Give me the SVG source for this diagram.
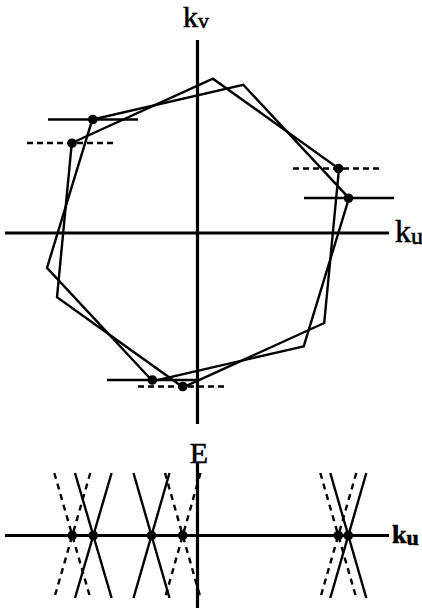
<svg xmlns="http://www.w3.org/2000/svg" width="422" height="610" viewBox="0 0 422 610">
<style>
.ax{stroke:#000;stroke-width:3.2;fill:none}
.ln{stroke:#000;stroke-width:2.4;fill:none}
.ds{stroke:#000;stroke-width:2.4;fill:none;stroke-dasharray:6 4}
.dc{stroke:#000;stroke-width:2.4;fill:none;stroke-dasharray:6 5}
.dot{fill:#000}
.lbl{font-family:"Liberation Serif","Times New Roman",serif;fill:#000;stroke:#000;stroke-width:0.6}
</style>
<rect width="422" height="610" fill="#fff"/>
<g id="top-axes">
<line class="ax" x1="197.5" y1="40" x2="197.5" y2="424"/>
<line class="ax" x1="5" y1="233" x2="389" y2="233"/>
<text class="lbl" x="183" y="27" font-size="30">k<tspan font-size="22" dy="1">v</tspan></text>
<text class="lbl" x="395" y="242" font-size="32">k<tspan font-size="24" dy="2">u</tspan></text>
</g>
<g id="hexagon-solid">
<polygon class="ln" points="303.7,346.4 152.7,381.2 47,267.9 92.3,119.6 243.3,84.8 349,198.1"/>
</g>
<g id="hexagon-dashed-set">
<polygon class="ln" points="324.2,323 183.1,387.3 57,297.3 71.8,143 212.9,78.7 339,168.7"/>
</g>
<g id="levels">
<line class="ln" x1="48" y1="119.5" x2="138" y2="119.5"/>
<line class="ln" x1="304" y1="198" x2="394" y2="198"/>
<line class="ln" x1="107" y1="380" x2="197" y2="380"/>
<line class="ds" x1="27" y1="143" x2="117" y2="143"/>
<line class="ds" x1="293" y1="168.5" x2="383" y2="168.5"/>
<line class="ds" x1="138" y1="386.5" x2="228" y2="386.5"/>
<circle class="dot" cx="92.8" cy="119.5" r="4.8"/>
<circle class="dot" cx="348.5" cy="198.2" r="4.8"/>
<circle class="dot" cx="152.3" cy="380" r="4.8"/>
<circle class="dot" cx="72" cy="143.2" r="4.8"/>
<circle class="dot" cx="338.5" cy="168.5" r="4.8"/>
<circle class="dot" cx="182.8" cy="386.5" r="4.8"/>
</g>
<g id="bottom-axes">
<line class="ax" x1="5" y1="535.5" x2="389" y2="535.5"/>
<line class="ax" x1="197.5" y1="463" x2="197.5" y2="608"/>
<text class="lbl" x="199" y="463" font-size="30" text-anchor="middle">E</text>
<text class="lbl" x="392" y="543" font-size="26" font-weight="bold">k<tspan font-size="22" dy="2">u</tspan></text>
</g>
<g id="cones">
<line class="ln" x1="75" y1="473" x2="111.6" y2="598"/>
<line class="ln" x1="111.6" y1="473" x2="75" y2="598"/>
<line class="ln" x1="133.5" y1="473" x2="169.5" y2="598"/>
<line class="ln" x1="169.5" y1="473" x2="133.5" y2="598"/>
<line class="ln" x1="330.3" y1="473" x2="366.3" y2="598"/>
<line class="ln" x1="366.3" y1="473" x2="330.3" y2="598"/>
<line class="dc" x1="54.3" y1="473" x2="90.3" y2="598"/>
<line class="dc" x1="90.3" y1="473" x2="54.3" y2="598"/>
<line class="dc" x1="165" y1="473" x2="200.5" y2="598"/>
<line class="dc" x1="200.5" y1="473" x2="165" y2="598"/>
<line class="dc" x1="320.3" y1="473" x2="356.3" y2="598"/>
<line class="dc" x1="356.3" y1="473" x2="320.3" y2="598"/>
<circle class="dot" cx="72.3" cy="535.5" r="4.8"/>
<circle class="dot" cx="93.3" cy="535.5" r="4.8"/>
<circle class="dot" cx="151.5" cy="535.5" r="4.8"/>
<circle class="dot" cx="182.7" cy="535.5" r="4.8"/>
<circle class="dot" cx="338.3" cy="535.5" r="4.8"/>
<circle class="dot" cx="348.3" cy="535.5" r="4.8"/>
</g>
</svg>
